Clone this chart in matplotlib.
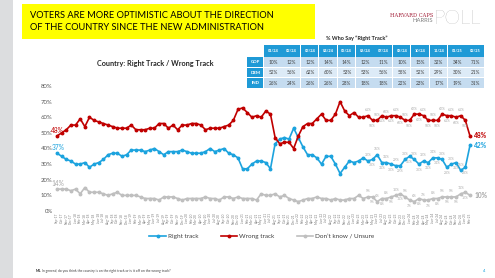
import pandas as pd
import matplotlib
matplotlib.use("Agg")
from matplotlib import pyplot as plt
from matplotlib.patches import Rectangle

plt.rcParams['font.family'] = ['Lato', 'DejaVu Sans']

# Tendances "Right track / Wrong track"
right_track = [37, 35, 33, 32, 30, 30, 31, 28, 30, 31,
               33, 36, 37, 37, 35, 36, 39, 39, 39, 38,
               39, 40, 38, 36, 38, 38, 38, 39, 38, 37,
               37, 37, 38, 40, 38, 39, 40, 37, 36, 34,
               27, 27, 30, 32, 32, 31, 27, 43, 46, 47,
               46, 53, 47, 41, 36, 36, 34, 30, 35, 35,
               30, 24, 28, 32, 31, 32, 34, 32, 33, 36,
               31, 31, 30, 29, 29, 33, 35, 33, 30, 32,
               31, 34, 34, 33, 28, 30, 31, 26, 28, 42]
wrong_track = [48, 50, 52, 55, 55, 59, 54, 60, 58, 57,
               56, 55, 54, 53, 53, 53, 55, 52, 52, 52,
               53, 53, 56, 56, 53, 55, 52, 55, 55, 56,
               56, 55, 52, 53, 53, 53, 54, 55, 58, 65,
               66, 63, 60, 61, 60, 64, 62, 47, 43, 44,
               44, 40, 48, 54, 56, 56, 59, 62, 58, 58,
               62, 70, 64, 61, 63, 60, 60, 61, 58, 58,
               61, 60, 61, 61, 60, 58, 58, 62, 62, 61,
               58, 58, 58, 62, 61, 61, 60, 61, 58, 48]
unsure = [14, 14, 14, 13, 14, 11, 15, 12, 12, 12,
          11, 10, 11, 12, 10, 10, 10, 10, 9, 8,
          8, 8, 7, 9, 9, 9, 8, 7, 8, 8,
          8, 8, 9, 8, 8, 7, 9, 9, 8, 9,
          8, 8, 8, 7, 11, 10, 10, 11, 9, 10,
          8, 7, 6, 7, 8, 8, 9, 8, 8, 7,
          8, 7, 7, 8, 8, 10, 8, 9, 9, 6,
          8, 8, 9, 10, 11, 9, 7, 6, 8, 7,
          7, 8, 8, 9, 9, 9, 9, 11, 12, 10]

# Libellés de l'axe x (mois)
mois = list(pd.date_range(end='2025-02-01', periods=len(right_track), freq='MS').strftime('%b-%y'))

# Tableau "% Who Say Right Track"
colonnes = ['01/24', '02/24', '03/24', '04/24', '05/24', '06/24',
            '07/24', '08/24', '10/24', '11/24', '01/25', '02/25']
lignes = ['GOP', 'DEM', 'IND']
gop = [10, 12, 12, 14, 14, 12, 11, 10, 15, 32, 34, 71]
dem = [52, 56, 62, 60, 53, 53, 56, 55, 52, 29, 30, 21]
ind = [26, 24, 26, 26, 28, 18, 18, 22, 23, 17, 19, 31]

BLEU = '#1CA3DE'
ROUGE = '#C00000'
GRIS = '#BFBFBF'
W, H = 495, 278


def fx(px):
    return px / W


def fy(py):
    return 1 - py / H


fig = plt.figure(figsize=(4.95, 2.78), dpi=100)

# bande grise à gauche et titre jaune
fig.add_artist(Rectangle((0, 0), fx(13), 1, transform=fig.transFigure, color='#DCDDDF', lw=0))
fig.add_artist(Rectangle((fx(22), fy(39)), fx(315) - fx(22), fy(4) - fy(39),
                         transform=fig.transFigure, color='#FFFF00', lw=0))
fig.text(fx(30), fy(15.5), 'VOTERS ARE MORE OPTIMISTIC ABOUT THE DIRECTION',
         fontsize=6.7, va='center', ha='left', color='black')
fig.text(fx(30), fy(27.5), 'OF THE COUNTRY SINCE THE NEW ADMINISTRATION',
         fontsize=6.7, va='center', ha='left', color='black')

# logo
fig.text(fx(433), fy(15.5), 'HARVARD CAPS', family='DejaVu Serif', fontsize=3.7,
         color='#A3213A', ha='right', va='center')
fig.text(fx(433), fy(21), 'HARRIS', fontsize=4.2, color='#7F7F7F', ha='right', va='center')
fig.text(fx(434), fy(19.5), 'POLL', fontsize=14.5, color='#9A9A9A', ha='left', va='center',
         fontweight='light')

# tableau
fig.text(fx(326), fy(38.5), '% Who Say \u201cRight Track\u201d', fontsize=4, fontweight='bold',
         ha='left', va='center', color='#262626')
x0, lw_lab, cw = 247, 17, 18.4
y_head, y_rows, rh = 45, [57, 67.5, 78], 10.5
for k, c in enumerate(colonnes):
    xl = x0 + lw_lab + k * cw
    fig.add_artist(Rectangle((fx(xl), fy(y_head + 11.5)), fx(cw - 0.8), 11.5 / H,
                             transform=fig.transFigure, color='#1F9AD6', lw=0))
    fig.text(fx(xl + cw / 2), fy(y_head + 6), c, fontsize=2.8, color='white',
             ha='center', va='center', fontweight='bold')
for r, (nom, vals) in enumerate(zip(lignes, [gop, dem, ind])):
    yt = y_rows[r]
    fond = '#DDEBF7' if r == 1 else '#C5DCF0'
    fig.add_artist(Rectangle((fx(x0), fy(yt + rh - 0.8)), fx(lw_lab - 0.8), (rh - 0.8) / H,
                             transform=fig.transFigure, color='#1F9AD6', lw=0))
    fig.text(fx(x0 + lw_lab / 2), fy(yt + rh / 2), nom, fontsize=3.2, color='white',
             ha='center', va='center', fontweight='bold')
    for k, v in enumerate(vals):
        xl = x0 + lw_lab + k * cw
        fig.add_artist(Rectangle((fx(xl), fy(yt + rh - 0.8)), fx(cw - 0.8), (rh - 0.8) / H,
                                 transform=fig.transFigure, color=fond, lw=0))
        fig.text(fx(xl + cw / 2), fy(yt + rh / 2), f'{v}%', fontsize=3.4, color='#404040',
                 ha='center', va='center')

# graphique
n = len(right_track)
x = list(range(n))
gauche = 57 - 0.5 * 4.64
droite = 470 + 0.5 * 4.64
ax = fig.add_axes([fx(gauche), fy(211), fx(droite) - fx(gauche), fy(86) - fy(211)])
ax.patch.set_alpha(0)

ax.plot(x, right_track, '-o', color=BLEU, lw=1.2, ms=1.8, label='Right track', zorder=3)
ax.plot(x, wrong_track, '-o', color=ROUGE, lw=1.2, ms=1.8, label='Wrong track', zorder=3)
ax.plot(x, unsure, '-o', color=GRIS, lw=1.2, ms=1.8, label='Don\u2019t know / Unsure', zorder=2)

ax.set_xlim(-0.5, n - 0.5)
ax.set_ylim(0, 80)
ax.set_yticks(range(0, 81, 10))
ax.set_yticklabels([f'{v}%' for v in range(0, 81, 10)], fontsize=4.3, color='#595959')
ax.set_xticks(x)
ax.set_xticklabels(mois, rotation=90, fontsize=2.3, color='#7F7F7F')
ax.tick_params(length=0, pad=1.5)
for s in ax.spines.values():
    s.set_visible(False)

# étiquettes de début et de fin
for serie, coul in [(wrong_track, ROUGE), (right_track, BLEU), (unsure, '#A6A6A6')]:
    ax.annotate(f'{serie[0]}%', (0, serie[0]), xytext=(-4, 4), textcoords='offset points',
                fontsize=4.8, color=coul, ha='left', va='center')
    ax.annotate(f'{serie[-1]}%', (n - 1, serie[-1]), xytext=(3, 0), textcoords='offset points',
                fontsize=4.8, color=coul, ha='left', va='center', fontweight='bold')

# petites étiquettes sur les derniers points
for serie in [right_track, wrong_track, unsure]:
    for i in range(67, n - 1):
        dy = 4 if i % 2 else -4
        ax.annotate(f'{serie[i]}%', (i, serie[i]), xytext=(0, dy), textcoords='offset points',
                    fontsize=2.4, color='#A6A6A6', ha='center', va='center')

ax.text(0.24, 1.18, 'Country: Right Track / Wrong Track', transform=ax.transAxes,
        fontsize=5.2, fontweight='bold', ha='center', va='center', color='#262626')

fig.legend(loc='center', bbox_to_anchor=(fx(262), fy(236)), ncol=3, frameon=False,
           fontsize=4.6, handlelength=2.6, columnspacing=3.5, handletextpad=0.3,
           labelcolor='#404040')

# note en bas de page
fig.text(fx(36), fy(271), 'M1.', fontsize=2.4, fontweight='bold', va='center', color='#262626')
fig.text(fx(42), fy(271), 'In general, do you think the country is on the right track or is it off on the wrong track?',
         fontsize=2.4, va='center', color='#404040')
fig.text(fx(483), fy(271), '4', fontsize=3, va='center', color=BLEU)

plt.savefig('out.png', dpi=100)
